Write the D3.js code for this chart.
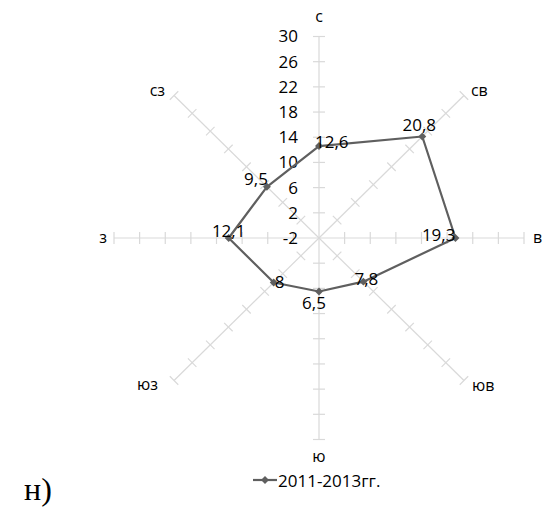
<!DOCTYPE html>
<html><head><meta charset="utf-8">
<script src="https://cdn.jsdelivr.net/npm/d3@7"></script>
<style>
html,body{margin:0;padding:0;background:#fff;}
svg{display:block;}
text{font-family:"Open Sans",sans-serif;fill:#000;}
</style></head>
<body>
<script>
// ---- data ----
const directions = ["с","св","в","юв","ю","юз","з","сз"];
const values = [12.6, 20.8, 19.3, 7.8, 6.5, 8, 12.1, 9.5];
const valueLabels = ["12,6","20,8","19,3","7,8","6,5","8","12,1","9,5"];
const tickValues = [-2, 2, 6, 10, 14, 18, 22, 26, 30];
const seriesName = "2011-2013гг.";
const captionText = "н)";

// ---- layout (not data) ----
const W = 560, H = 508;
const cx = 319, cy = 238;
const rX = 205, rY = 201.5;
// data label placement per point: [anchor, dx, dy(baseline)]
const labelPlace = [["start",-4,2],["middle",-3,-5],["end",0,3],["middle",3,3],
                    ["middle",-5,17],["start",1,5],["middle",0,-1],["end",1,-2]];
// direction label placement relative to axis end: [anchor, dx, dy(baseline)]
const dirPlace = [["middle",0,-15],["start",7,0],["start",9,5],["start",8,11],
                  ["middle",0,22],["end",-16,10],["end",-7,5],["end",-9,0]];

const svg = d3.select("body").append("svg").attr("width",W).attr("height",H);

const r = d3.scaleLinear().domain([-2,30]).range([0,1]);
const angle = i => i*Math.PI/4;
const px = (i,v) => cx + Math.sin(angle(i))*r(v)*rX;
const py = (i,v) => cy - Math.cos(angle(i))*r(v)*rY;

const grid = svg.append("g").attr("stroke","#d9d9d9").attr("stroke-width",1.2).attr("fill","none");
directions.forEach((d,i)=>{
  grid.append("line").attr("x1",cx).attr("y1",cy).attr("x2",px(i,30)).attr("y2",py(i,30));
  const a = angle(i);
  const ux = Math.cos(a), uy = Math.sin(a); // perpendicular
  tickValues.slice(1).forEach(t=>{
    const x = px(i,t), y = py(i,t);
    grid.append("line").attr("x1",x-ux*6).attr("y1",y-uy*6).attr("x2",x+ux*6).attr("y2",y+uy*6);
  });
});

// radial tick labels
svg.append("g").selectAll("text").data(tickValues).join("text")
  .attr("x",298).attr("y",d=>py(0,d)).attr("dy","0.35em")
  .attr("text-anchor","end").style("font-size","17px").attr("fill","#1a1a1a")
  .text(d=>d);

// direction labels
svg.append("g").selectAll("text").data(directions).join("text")
  .attr("x",(d,i)=>px(i,30)+dirPlace[i][1])
  .attr("y",(d,i)=>py(i,30)+dirPlace[i][2])
  .attr("text-anchor",(d,i)=>dirPlace[i][0])
  .style("font-size","16px").attr("fill","#1a1a1a")
  .text(d=>d);

// series line
const pts = values.map((v,i)=>[px(i,v),py(i,v)]);
svg.append("path").attr("d", d3.line()(pts.concat([pts[0]])))
  .attr("fill","none").attr("stroke","#5f5f5f").attr("stroke-width",2.2).attr("stroke-linejoin","round");

const diamond = d3.symbol().type(d3.symbolDiamond2 || d3.symbolDiamond).size(40);
svg.append("g").selectAll("path").data(pts).join("path")
  .attr("transform",d=>`translate(${d[0]},${d[1]})`)
  .attr("d",diamond()).attr("fill","#5f5f5f");

// data labels
svg.append("g").selectAll("text").data(valueLabels).join("text")
  .attr("x",(d,i)=>pts[i][0]+labelPlace[i][1])
  .attr("y",(d,i)=>pts[i][1]+labelPlace[i][2])
  .attr("text-anchor",(d,i)=>labelPlace[i][0])
  .style("font-size","17px").attr("fill","#111")
  .text(d=>d);

// legend
const lg = svg.append("g");
lg.append("line").attr("x1",253).attr("x2",277).attr("y1",480).attr("y2",480)
  .attr("stroke","#5f5f5f").attr("stroke-width",2.2);
lg.append("path").attr("transform","translate(265,480)").attr("d",diamond()).attr("fill","#5f5f5f");
lg.append("text").attr("x",278).attr("y",487).style("font-size","17px").attr("fill","#111").text(seriesName);

// caption
svg.append("text").attr("x",24).attr("y",500)
  .style("font-family","'Liberation Serif',serif").style("font-size","32px")
  .text(captionText);
</script>
</body></html>
